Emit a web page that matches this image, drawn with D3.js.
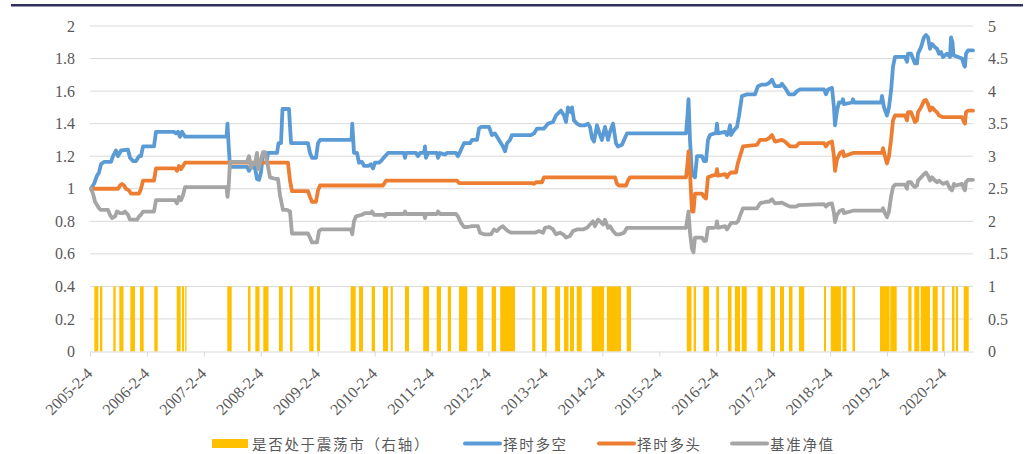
<!DOCTYPE html>
<meta charset="utf-8">
<html>
<script src="https://d3js.org/d3.v7.min.js"></script>
<style>
    body { margin: 0; background: #fff; }
    .legend text { font-family: "Noto Sans CJK SC", sans-serif; font-size: 14.5px; fill: #595959; letter-spacing: 1.7px; }
</style>
<body>
<div id="chart"></div>
<script>
// time is in decimal years (2005.093 = 2005-2-4)
var xTickValues = [2005.093, 2006.093, 2007.093, 2008.093, 2009.093, 2010.093, 2011.093, 2012.093,
    2013.093, 2014.093, 2015.093, 2016.093, 2017.093, 2018.093, 2019.093, 2020.093];
var xTickLabels = ["2005-2-4", "2006-2-4", "2007-2-4", "2008-2-4", "2009-2-4", "2010-2-4", "2011-2-4", "2012-2-4",
    "2013-2-4", "2014-2-4", "2015-2-4", "2016-2-4", "2017-2-4", "2018-2-4", "2019-2-4", "2020-2-4"];
var leftTicks = [0, 0.2, 0.4, 0.6, 0.8, 1, 1.2, 1.4, 1.6, 1.8, 2];
var rightTicks = [0, 0.5, 1, 1.5, 2, 2.5, 3, 3.5, 4, 4.5, 5];
var seriesNames = ["是否处于震荡市（右轴）", "择时多空", "择时多头", "基准净值"];

// periods flagged as range-bound market (value 1 on right axis)
var rangeMarket = [[2005.169,2005.239],[2005.268,2005.309],[2005.502,2005.544],[2005.608,2005.681],[2005.801,2005.883],
    [2005.971,2006.036],[2006.222,2006.282],[2006.616,2006.686],[2006.709,2006.744],[2006.765,2006.788],[2007.505,2007.582],
    [2007.868,2007.912],[2007.997,2008.070],[2008.137,2008.228],[2008.413,2008.478],[2008.606,2008.650],[2008.945,2009.022],
    [2009.080,2009.133],[2009.672,2009.760],[2009.818,2009.888],[2010.041,2010.099],[2010.240,2010.327],[2010.375,2010.412],
    [2010.626,2010.696],[2010.946,2011.048],[2011.183,2011.258],[2011.378,2011.434],[2011.575,2011.720],[2011.887,2012.000],
    [2012.149,2012.224],[2012.298,2012.558],[2012.862,2012.915],[2013.032,2013.115],[2013.264,2013.349],[2013.419,2013.498],
    [2013.524,2013.594],[2013.642,2013.730],[2013.907,2014.125],[2014.171,2014.420],[2014.520,2014.596],[2015.576,2015.658],
    [2015.697,2015.737],[2015.866,2015.966],[2016.094,2016.141],[2016.299,2016.361],[2016.422,2016.510],[2016.540,2016.628],
    [2016.818,2016.906],[2017.049,2017.125],[2017.213,2017.283],[2017.371,2017.432],[2017.547,2017.638],[2017.986,2018.021],
    [2018.105,2018.284],[2018.311,2018.381],[2018.486,2018.530],[2018.969,2019.138],[2019.149,2019.263],[2019.467,2019.523],
    [2019.572,2019.660],[2019.684,2019.848],[2019.895,2019.983],[2020.062,2020.102],[2020.234,2020.278],[2020.301,2020.340],
    [2020.440,2020.528]];

// 择时多空
var longShort = [[2005.111,1.00],[2005.163,1.03],[2005.216,1.08],[2005.251,1.10],[2005.286,1.15],[2005.339,1.165],[2005.462,1.165],
    [2005.497,1.20],[2005.550,1.235],[2005.585,1.20],[2005.638,1.235],[2005.760,1.24],[2005.796,1.19],[2005.848,1.17],[2005.901,1.17],
    [2005.954,1.20],[2005.989,1.20],[2006.024,1.26],[2006.217,1.26],[2006.252,1.35],[2006.568,1.35],[2006.604,1.34],[2006.639,1.35],
    [2006.674,1.32],[2006.709,1.35],[2006.762,1.32],[2007.491,1.32],[2007.508,1.40],[2007.526,1.28],[2007.552,1.135],[2007.851,1.135],
    [2007.886,1.11],[2007.921,1.135],[2007.991,1.13],[2008.026,1.06],[2008.062,1.055],[2008.097,1.10],[2008.132,1.22],[2008.184,1.22],
    [2008.202,1.18],[2008.220,1.22],[2008.378,1.22],[2008.404,1.28],[2008.448,1.28],[2008.474,1.49],[2008.588,1.49],[2008.624,1.28],
    [2008.922,1.28],[2008.957,1.22],[2008.992,1.19],[2009.063,1.19],[2009.098,1.28],[2009.133,1.30],[2009.686,1.30],[2009.700,1.40],
    [2009.730,1.22],[2009.783,1.22],[2009.818,1.16],[2009.871,1.165],[2009.906,1.14],[2009.976,1.14],[2010.029,1.15],[2010.064,1.125],
    [2010.099,1.16],[2010.169,1.16],[2010.204,1.17],[2010.275,1.20],[2010.327,1.22],[2010.608,1.22],[2010.626,1.19],[2010.644,1.22],
    [2010.819,1.22],[2010.854,1.20],[2010.889,1.22],[2010.960,1.22],[2010.977,1.26],[2010.995,1.19],[2011.030,1.22],[2011.188,1.22],
    [2011.206,1.19],[2011.241,1.22],[2011.329,1.21],[2011.364,1.22],[2011.522,1.22],[2011.557,1.20],[2011.610,1.24],[2011.662,1.28],
    [2011.768,1.28],[2011.803,1.30],[2011.891,1.30],[2011.926,1.37],[2011.961,1.38],[2012.101,1.38],[2012.154,1.33],[2012.207,1.34],
    [2012.277,1.30],[2012.347,1.26],[2012.383,1.23],[2012.418,1.28],[2012.470,1.30],[2012.505,1.33],[2012.839,1.33],[2012.892,1.34],
    [2012.945,1.37],[2013.068,1.37],[2013.138,1.40],[2013.226,1.41],[2013.278,1.45],[2013.366,1.48],[2013.419,1.45],[2013.454,1.41],
    [2013.489,1.50],[2013.542,1.47],[2013.559,1.50],[2013.594,1.42],[2013.647,1.40],[2013.700,1.39],[2013.788,1.39],[2013.840,1.40],
    [2013.876,1.38],[2013.911,1.31],[2013.946,1.29],[2013.998,1.39],[2014.051,1.33],[2014.086,1.30],[2014.139,1.38],[2014.192,1.30],
    [2014.227,1.35],[2014.280,1.40],[2014.332,1.28],[2014.367,1.26],[2014.438,1.27],[2014.473,1.30],[2014.525,1.34],[2015.562,1.34],
    [2015.588,1.45],[2015.606,1.55],[2015.632,1.30],[2015.667,1.09],[2015.720,1.07],[2015.755,1.20],[2015.843,1.20],[2015.878,1.17],
    [2015.913,1.17],[2015.948,1.30],[2015.983,1.33],[2016.054,1.34],[2016.089,1.34],[2016.106,1.40],[2016.124,1.34],[2016.247,1.35],
    [2016.282,1.33],[2016.317,1.36],[2016.335,1.39],[2016.352,1.33],[2016.405,1.36],[2016.458,1.38],[2016.493,1.45],[2016.545,1.57],
    [2016.633,1.58],[2016.774,1.58],[2016.826,1.63],[2016.897,1.64],[2016.967,1.64],[2017.020,1.65],[2017.072,1.67],[2017.125,1.63],
    [2017.213,1.63],[2017.248,1.645],[2017.301,1.62],[2017.371,1.58],[2017.459,1.58],[2017.512,1.60],[2017.564,1.61],[2017.986,1.61],
    [2018.021,1.58],[2018.056,1.61],[2018.126,1.62],[2018.161,1.50],[2018.179,1.39],[2018.214,1.48],[2018.249,1.53],[2018.302,1.53],
    [2018.319,1.55],[2018.337,1.52],[2018.478,1.53],[2018.495,1.55],[2018.513,1.53],[2018.987,1.53],[2019.005,1.57],[2019.040,1.50],
    [2019.092,1.45],[2019.127,1.50],[2019.163,1.60],[2019.198,1.75],[2019.233,1.81],[2019.409,1.81],[2019.444,1.78],[2019.461,1.83],
    [2019.514,1.83],[2019.549,1.80],[2019.584,1.77],[2019.619,1.77],[2019.637,1.83],[2019.690,1.87],[2019.742,1.93],[2019.777,1.945],
    [2019.813,1.93],[2019.848,1.86],[2019.883,1.89],[2019.935,1.87],[2019.971,1.86],[2020.006,1.83],[2020.041,1.84],[2020.076,1.81],
    [2020.146,1.83],[2020.199,1.81],[2020.217,1.93],[2020.243,1.90],[2020.260,1.82],[2020.339,1.81],[2020.410,1.80],[2020.445,1.76],
    [2020.462,1.75],[2020.480,1.83],[2020.515,1.85],[2020.603,1.85]];

// 择时多头
var longOnly = [[2005.111,1.00],[2005.585,1.00],[2005.620,1.02],[2005.655,1.03],[2005.690,1.02],[2005.725,1.00],[2005.778,0.99],
    [2005.813,0.97],[2005.954,0.97],[2005.989,1.00],[2006.024,1.05],[2006.217,1.05],[2006.252,1.125],[2006.586,1.125],[2006.621,1.11],
    [2006.656,1.14],[2006.691,1.12],[2006.727,1.14],[2006.762,1.16],[2008.571,1.16],[2008.606,1.05],[2008.641,0.985],[2008.922,0.985],
    [2008.957,0.95],[2008.992,0.92],[2009.063,0.92],[2009.098,0.99],[2009.133,1.02],[2010.240,1.02],[2010.292,1.05],[2011.539,1.05],
    [2011.575,1.035],[2012.857,1.035],[2012.892,1.03],[2012.927,1.04],[2013.032,1.04],[2013.068,1.07],[2014.315,1.07],[2014.350,1.03],
    [2014.385,1.02],[2014.508,1.02],[2014.543,1.05],[2014.578,1.07],[2015.562,1.07],[2015.588,1.15],[2015.606,1.23],[2015.632,1.10],
    [2015.667,0.86],[2015.693,0.86],[2015.720,0.97],[2015.843,0.97],[2015.878,0.95],[2015.913,0.94],[2015.948,1.07],[2016.018,1.08],
    [2016.089,1.085],[2016.106,1.12],[2016.124,1.08],[2016.247,1.09],[2016.282,1.07],[2016.317,1.09],[2016.352,1.10],[2016.440,1.10],
    [2016.475,1.16],[2016.528,1.22],[2016.563,1.26],[2016.809,1.27],[2016.862,1.30],[2016.967,1.30],[2017.020,1.31],[2017.072,1.33],
    [2017.125,1.29],[2017.248,1.30],[2017.301,1.29],[2017.389,1.26],[2017.494,1.26],[2017.547,1.28],[2017.986,1.28],[2018.021,1.26],
    [2018.056,1.28],[2018.126,1.29],[2018.161,1.20],[2018.179,1.11],[2018.214,1.18],[2018.267,1.22],[2018.319,1.23],[2018.337,1.20],
    [2018.495,1.22],[2019.005,1.22],[2019.022,1.25],[2019.057,1.20],[2019.092,1.155],[2019.127,1.20],[2019.163,1.30],[2019.198,1.42],
    [2019.233,1.45],[2019.409,1.45],[2019.444,1.42],[2019.461,1.47],[2019.514,1.47],[2019.549,1.44],[2019.584,1.41],[2019.619,1.42],
    [2019.637,1.47],[2019.690,1.50],[2019.742,1.54],[2019.777,1.545],[2019.813,1.52],[2019.848,1.48],[2019.883,1.50],[2019.935,1.48],
    [2019.971,1.47],[2020.006,1.45],[2020.076,1.44],[2020.410,1.44],[2020.445,1.41],[2020.462,1.40],[2020.480,1.47],[2020.515,1.48],
    [2020.603,1.48]];

// 基准净值
var benchmark = [[2005.111,1.00],[2005.146,0.97],[2005.181,0.92],[2005.216,0.90],[2005.251,0.88],[2005.286,0.87],[2005.409,0.87],
    [2005.444,0.84],[2005.479,0.82],[2005.532,0.83],[2005.567,0.86],[2005.620,0.85],[2005.673,0.85],[2005.708,0.86],[2005.760,0.84],
    [2005.796,0.81],[2005.919,0.81],[2005.954,0.83],[2005.989,0.84],[2006.024,0.86],[2006.217,0.86],[2006.252,0.93],[2006.586,0.93],
    [2006.621,0.91],[2006.656,0.95],[2006.691,0.93],[2006.727,0.96],[2006.762,1.01],[2007.491,1.01],[2007.508,0.95],[2007.526,1.00],
    [2007.552,1.165],[2007.851,1.165],[2007.886,1.20],[2007.921,1.13],[2007.956,1.16],[2007.991,1.15],[2008.026,1.22],[2008.044,1.12],
    [2008.097,1.18],[2008.132,1.225],[2008.167,1.225],[2008.202,1.17],[2008.255,1.07],[2008.360,1.06],[2008.395,1.06],[2008.430,0.96],
    [2008.483,0.87],[2008.553,0.87],[2008.606,0.86],[2008.641,0.725],[2008.922,0.725],[2008.957,0.70],[2008.992,0.67],[2009.080,0.67],
    [2009.115,0.74],[2009.151,0.75],[2009.677,0.75],[2009.700,0.72],[2009.730,0.80],[2009.765,0.83],[2009.871,0.84],[2009.923,0.85],
    [2010.029,0.85],[2010.046,0.86],[2010.081,0.84],[2010.257,0.84],[2010.275,0.83],[2010.292,0.845],[2010.608,0.845],[2010.626,0.86],
    [2010.644,0.845],[2010.960,0.845],[2010.977,0.82],[2010.995,0.845],[2011.188,0.845],[2011.206,0.86],[2011.241,0.845],[2011.522,0.845],
    [2011.557,0.83],[2011.610,0.79],[2011.662,0.765],[2011.733,0.765],[2011.803,0.77],[2011.908,0.77],[2011.943,0.73],[2012.014,0.72],
    [2012.137,0.72],[2012.189,0.75],[2012.242,0.74],[2012.295,0.76],[2012.347,0.77],[2012.400,0.75],[2012.435,0.74],[2012.488,0.73],
    [2012.909,0.73],[2012.980,0.74],[2013.050,0.73],[2013.085,0.76],[2013.155,0.765],[2013.226,0.75],[2013.278,0.72],[2013.349,0.73],
    [2013.401,0.72],[2013.454,0.70],[2013.524,0.71],[2013.577,0.74],[2013.647,0.75],[2013.753,0.75],[2013.823,0.76],[2013.876,0.78],
    [2013.928,0.80],[2013.963,0.77],[2014.016,0.81],[2014.051,0.80],[2014.104,0.78],[2014.139,0.81],[2014.192,0.76],[2014.227,0.77],
    [2014.280,0.74],[2014.332,0.72],[2014.402,0.72],[2014.473,0.73],[2014.525,0.76],[2015.562,0.76],[2015.588,0.82],[2015.606,0.86],
    [2015.632,0.73],[2015.667,0.63],[2015.693,0.61],[2015.720,0.70],[2015.843,0.70],[2015.878,0.68],[2015.913,0.68],[2015.948,0.76],
    [2016.054,0.76],[2016.089,0.765],[2016.106,0.80],[2016.124,0.76],[2016.247,0.77],[2016.282,0.75],[2016.317,0.77],[2016.352,0.79],
    [2016.440,0.79],[2016.475,0.80],[2016.528,0.85],[2016.563,0.88],[2016.809,0.88],[2016.862,0.91],[2016.967,0.92],[2017.020,0.92],
    [2017.072,0.935],[2017.125,0.91],[2017.248,0.915],[2017.301,0.905],[2017.389,0.89],[2017.494,0.89],[2017.547,0.90],[2017.986,0.905],
    [2018.021,0.89],[2018.056,0.905],[2018.126,0.91],[2018.161,0.85],[2018.179,0.795],[2018.214,0.84],[2018.267,0.865],[2018.319,0.87],
    [2018.337,0.85],[2018.495,0.865],[2019.005,0.865],[2019.022,0.88],[2019.057,0.85],[2019.092,0.825],[2019.127,0.86],[2019.163,0.95],
    [2019.198,1.01],[2019.233,1.025],[2019.409,1.025],[2019.444,1.00],[2019.461,1.04],[2019.514,1.04],[2019.549,1.02],[2019.584,1.01],
    [2019.619,1.02],[2019.637,1.05],[2019.690,1.07],[2019.742,1.09],[2019.777,1.10],[2019.813,1.08],[2019.848,1.05],[2019.883,1.07],
    [2019.935,1.05],[2019.971,1.04],[2020.006,1.05],[2020.076,1.03],[2020.146,1.04],[2020.199,1.00],[2020.234,0.99],[2020.269,1.03],
    [2020.304,1.02],[2020.410,1.03],[2020.445,1.00],[2020.462,0.99],[2020.480,1.04],[2020.515,1.055],[2020.603,1.055]];

var colors = ["#FFC000", "#5B9BD5", "#ED7D31", "#A5A5A5"];
var tickFont = '"Liberation Serif", "Times New Roman", serif';

var width = 1029, height = 454;
var svg = d3.select("#chart").append("svg")
    .attr("width", width)
    .attr("height", height);

// dark rule along the top
svg.append("rect").attr("x", 11).attr("y", 4).attr("width", 1012).attr("height", 2.5).attr("fill", "#30305e");

var x = d3.scaleLinear().domain([2005.093, 2020.603]).range([90, 973]);
var yL = d3.scaleLinear().domain([0, 2]).range([351.5, 26]);
var yR = d3.scaleLinear().domain([0, 5]).range([351.5, 26]);

// gridlines
svg.append("g").selectAll("line")
    .data(leftTicks.slice(1)).enter().append("line")
    .attr("x1", 90).attr("x2", 973)
    .attr("y1", function (d) { return yL(d); })
    .attr("y2", function (d) { return yL(d); })
    .attr("stroke", "#d9d9d9").attr("stroke-width", 1);

// range-market bars (right axis)
svg.append("g").selectAll("rect")
    .data(rangeMarket).enter().append("rect")
    .attr("x", function (d) { return x(d[0]); })
    .attr("width", function (d) { return x(d[1]) - x(d[0]); })
    .attr("y", yR(1))
    .attr("height", yR(0) - yR(1))
    .attr("fill", colors[0]);

// lines
var line = d3.line()
    .x(function (d) { return x(d[0]); })
    .y(function (d) { return yL(d[1]); });

[longShort, longOnly, benchmark].forEach(function (s, i) {
    svg.append("path")
        .datum(s)
        .attr("fill", "none")
        .attr("stroke", colors[i + 1])
        .attr("stroke-width", 3.8)
        .attr("stroke-linejoin", "round")
        .attr("stroke-linecap", "round")
        .attr("d", line);
});

function styleTicks(g) {
    g.attr("font-family", tickFont).attr("font-size", 16);
    g.selectAll(".tick text")
        .style("font-family", tickFont)
        .style("font-size", "16px")
        .attr("fill", "#595959");
}

// left axis
var gL = svg.append("g")
    .attr("transform", "translate(90,0)")
    .call(d3.axisLeft(yL).tickValues(leftTicks).tickSize(0).tickPadding(15).tickFormat(d3.format("~g")));
gL.select(".domain").remove();
styleTicks(gL);

// right axis
var gR = svg.append("g")
    .attr("transform", "translate(973,0)")
    .call(d3.axisRight(yR).tickValues(rightTicks).tickSize(0).tickPadding(15).tickFormat(d3.format("~g")));
gR.select(".domain").remove();
styleTicks(gR);

// x axis
var gX = svg.append("g")
    .attr("transform", "translate(0,351.5)")
    .call(d3.axisBottom(x).tickValues(xTickValues).tickSize(5).tickSizeOuter(0)
        .tickFormat(function (d, i) { return xTickLabels[i]; }));
gX.select(".domain").attr("stroke", "#d9d9d9");
gX.selectAll(".tick line").attr("stroke", "#d9d9d9");
styleTicks(gX);
gX.selectAll(".tick text")
    .attr("x", 0).attr("y", 0).attr("dy", null)
    .attr("text-anchor", "end")
    .attr("transform", "translate(3,23) rotate(-45)");

// legend
var legendX = [212, 463, 597, 730];
var legend = svg.append("g").attr("class", "legend");
seriesNames.forEach(function (name, i) {
    var lx = legendX[i];
    if (i === 0) {
        legend.append("rect").attr("x", lx).attr("y", 439).attr("width", 36).attr("height", 9).attr("fill", colors[0]);
    } else {
        legend.append("line").attr("x1", lx + 2).attr("x2", lx + 37).attr("y1", 443.5).attr("y2", 443.5)
            .attr("stroke", colors[i]).attr("stroke-width", 4).attr("stroke-linecap", "round");
    }
    legend.append("text").attr("x", lx + 40).attr("y", 443.5)
        .attr("dominant-baseline", "central")
        .text(name);
});
</script>
</body>
</html>
